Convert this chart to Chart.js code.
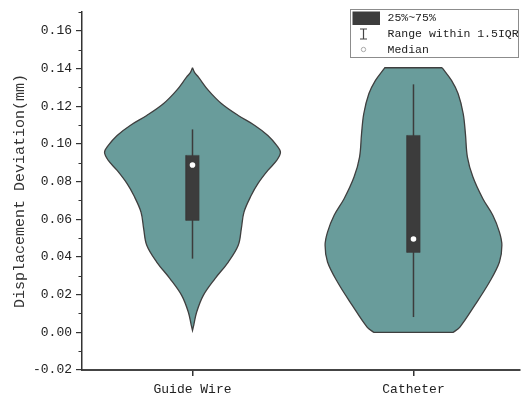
<!DOCTYPE html>
<html>
<head>
<meta charset="utf-8">
<script src="https://cdn.jsdelivr.net/npm/chart.js@4/dist/chart.umd.min.js"></script>
<style>
  html, body { margin: 0; padding: 0; background: #fff; }
  #wrap { width: 524px; height: 400px; }
</style>
</head>
<body>
<div id="wrap"><canvas id="chart"></canvas></div>
<script>
// ---- data ----
const categories = ['Guide Wire', 'Catheter'];

// violin outlines: value levels (mm), top to bottom, with the half-width
// of the density curve at each level (in category units)
const guideWireLevels    = [0.1404, 0.1380, 0.1354, 0.1284, 0.1213, 0.1151, 0.1098, 0.1045, 0.0992, 0.0955, 0.0912, 0.0859, 0.0789, 0.0727, 0.0638, 0.0550, 0.0462, 0.0373, 0.0285, 0.0196, 0.0108, 0.0040, 0.0010];
const guideWireHalfWidth = [0.000, 0.009, 0.027, 0.072, 0.132, 0.207, 0.282, 0.341, 0.381, 0.398, 0.381, 0.341, 0.296, 0.266, 0.233, 0.221, 0.207, 0.162, 0.102, 0.049, 0.019, 0.006, 0.000];

const catheterLevels    = [0.1404, 0.1337, 0.1266, 0.1160, 0.1054, 0.0930, 0.0824, 0.0709, 0.0621, 0.0532, 0.0462, 0.0373, 0.0267, 0.0143, 0.0028, 0.0000];
const catheterHalfWidth = [0.130, 0.172, 0.202, 0.225, 0.235, 0.244, 0.269, 0.314, 0.359, 0.389, 0.400, 0.389, 0.344, 0.277, 0.210, 0.180];

// box statistics per category
const q1          = [0.0594, 0.0424];
const q3          = [0.0939, 0.1045];
const medians     = [0.0888, 0.0495];
const whiskerLow  = [0.0391, 0.0081];
const whiskerHigh = [0.1077, 0.1316];

// axis ticks
const yTicks      = [-0.02, 0.00, 0.02, 0.04, 0.06, 0.08, 0.10, 0.12, 0.14, 0.16];
const yMinorTicks = [-0.01, 0.01, 0.03, 0.05, 0.07, 0.09, 0.11, 0.13, 0.15, 0.17];

const legendLabels = ['25%~75%', 'Range within 1.5IQR', 'Median'];

// ---- styling ----
const VIOLIN_FILL = '#699c9b';
const VIOLIN_EDGE = '#3f3f3f';
const BOX_COLOR   = '#3c3c3c';
const BOX_HALF    = 0.03;
const FONT        = "'Liberation Mono', 'DejaVu Sans Mono', monospace";

// closed outline: right side downwards, left side back up.
// end points are doubled so the bezier keeps sharp corners there.
function violinOutline(center, levels, half) {
  const n = levels.length;
  const pts = [];
  const add = (x, y, twice) => { pts.push({x, y}); if (twice) pts.push({x, y}); };
  for (let i = 0; i < n; i++) add(center + half[i], levels[i], i === 0 || i === n - 1);
  for (let i = n - 1; i >= 0; i--) {
    if (half[i] === 0 && (i === 0 || i === n - 1)) continue;
    add(center - half[i], levels[i], i === 0 || i === n - 1);
  }
  pts.push({x: center + half[0], y: levels[0]});
  return pts;
}

function boxOutline(center, lo, hi) {
  return [
    {x: center - BOX_HALF, y: lo}, {x: center + BOX_HALF, y: lo},
    {x: center + BOX_HALF, y: hi}, {x: center - BOX_HALF, y: hi},
    {x: center - BOX_HALF, y: lo}
  ];
}

const outlines = [
  violinOutline(1, guideWireLevels, guideWireHalfWidth),
  violinOutline(2, catheterLevels, catheterHalfWidth)
];

const datasets = [];
categories.forEach((name, i) => {
  const c = i + 1;
  datasets.push({
    label: name + ' density',
    data: outlines[i],
    showLine: true, fill: 'shape', tension: 0.35,
    backgroundColor: VIOLIN_FILL, borderColor: VIOLIN_EDGE, borderWidth: 1.3,
    pointRadius: 0, order: 3
  });
  datasets.push({
    label: name + ' whisker',
    data: [{x: c, y: whiskerLow[i]}, {x: c, y: whiskerHigh[i]}],
    showLine: true, borderColor: BOX_COLOR, borderWidth: 1.5,
    pointRadius: 0, order: 2
  });
  datasets.push({
    label: name + ' IQR',
    data: boxOutline(c, q1[i], q3[i]),
    showLine: true, fill: 'shape', tension: 0,
    backgroundColor: BOX_COLOR, borderColor: BOX_COLOR, borderWidth: 0.5,
    pointRadius: 0, order: 1
  });
});
datasets.push({
  label: 'Median',
  data: medians.map((m, i) => ({x: i + 1, y: m})),
  pointRadius: 2.8, pointBackgroundColor: '#ffffff', pointBorderWidth: 0,
  order: 0
});

// minor ticks on the value axis
const minorTicks = {
  id: 'minorTicks',
  afterDraw(chart) {
    const y = chart.scales.y, ctx = chart.ctx;
    ctx.save();
    ctx.strokeStyle = '#333'; ctx.lineWidth = 1.2;
    ctx.beginPath();
    yMinorTicks.forEach(v => {
      const py = Math.round(y.getPixelForValue(v)) + 0.5;
      ctx.moveTo(y.right - 3.5, py); ctx.lineTo(y.right, py);
    });
    ctx.stroke();
    ctx.restore();
  }
};

// boxed key in the upper right corner
const boxLegend = {
  id: 'boxLegend',
  afterDraw(chart) {
    const ctx = chart.ctx, area = chart.chartArea;
    const w = 168, h = 48;
    const x = Math.round(area.right - w - 2) + 0.5, y = 9.5;
    ctx.save();
    ctx.fillStyle = '#fff'; ctx.fillRect(x, y, w, h);
    ctx.strokeStyle = '#8c8c8c'; ctx.lineWidth = 1; ctx.strokeRect(x, y, w, h);
    const iconX = x + 13, textX = x + 37;
    const rows = [y + 8.5, y + 24.5, y + 40];
    // 25%~75% swatch
    ctx.fillStyle = BOX_COLOR;
    ctx.fillRect(x + 2, y + 2, 27.5, 13.5);
    // whisker symbol
    ctx.strokeStyle = '#444'; ctx.lineWidth = 1.2;
    ctx.beginPath();
    ctx.moveTo(iconX, rows[1] - 5); ctx.lineTo(iconX, rows[1] + 5);
    ctx.moveTo(iconX - 3.5, rows[1] - 5); ctx.lineTo(iconX + 3.5, rows[1] - 5);
    ctx.moveTo(iconX - 3.5, rows[1] + 5); ctx.lineTo(iconX + 3.5, rows[1] + 5);
    ctx.stroke();
    // median symbol
    ctx.strokeStyle = '#aaa'; ctx.lineWidth = 1;
    ctx.beginPath(); ctx.arc(iconX, rows[2], 2.2, 0, Math.PI * 2); ctx.stroke();
    ctx.fillStyle = '#222';
    ctx.font = "11.5px " + FONT;
    ctx.textBaseline = 'middle';
    legendLabels.forEach((t, i) => ctx.fillText(t, textX, rows[i]));
    ctx.restore();
  }
};

new Chart(document.getElementById('chart'), {
  type: 'scatter',
  data: { datasets },
  plugins: [minorTicks, boxLegend],
  options: {
    responsive: true,
    maintainAspectRatio: false,
    animation: false,
    events: [],
    layout: { padding: { top: 12, right: 0, bottom: 0, left: 0 } },
    plugins: { legend: { display: false }, tooltip: { enabled: false } },
    scales: {
      x: {
        type: 'linear', min: 0.5, max: 2.482,
        grid: { drawOnChartArea: false, drawTicks: true, tickLength: 6, color: '#333', lineWidth: 1.5 },
        border: { display: true, color: '#444', width: 2 },
        ticks: {
          padding: 6, color: '#222',
          font: { family: FONT, size: 13 },
          callback: v => categories[Math.round(v) - 1] || ''
        },
        afterBuildTicks: s => { s.ticks = categories.map((_, i) => ({ value: i + 1 })); },
        afterFit: s => { s.height = 30; s.paddingLeft = 0; s.paddingRight = 0; }
      },
      y: {
        type: 'linear', min: -0.02, max: 0.17,
        grid: { drawOnChartArea: false, drawTicks: true, tickLength: 6, color: '#333', lineWidth: 1.2 },
        border: { display: true, color: '#333', width: 1.5 },
        ticks: {
          padding: 4, color: '#222',
          font: { family: FONT, size: 13 },
          callback: v => v.toFixed(2)
        },
        title: {
          display: true, text: 'Displacement Deviation(mm)', color: '#333',
          font: { family: FONT, size: 15 }, padding: { top: 11, bottom: 0 }
        },
        afterBuildTicks: s => { s.ticks = yTicks.map(v => ({ value: v })); },
        afterFit: s => { s.width = 82; s.paddingTop = 0; s.paddingBottom = 0; }
      }
    }
  }
});
</script>
</body>
</html>
